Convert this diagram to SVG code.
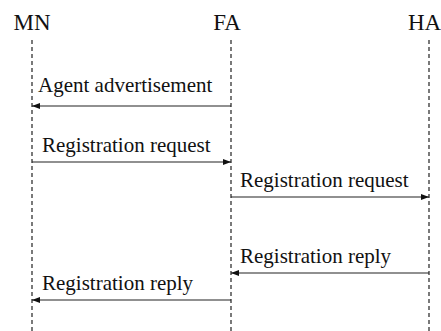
<svg xmlns="http://www.w3.org/2000/svg" width="441" height="331" viewBox="0 0 441 331">
<defs>
<style>
text{font-family:'Liberation Serif','Times New Roman','DejaVu Serif',serif;fill:#111}
.hdr{font-size:23px}
.lbl{font-size:21px}
.life{stroke:#222;stroke-width:1.2;stroke-dasharray:4,3;fill:none}
.msg{stroke:#222;stroke-width:1.2;fill:none;marker-end:url(#ah)}
</style>
<marker id="ah" markerWidth="8" markerHeight="6" refX="8" refY="3" orient="auto" markerUnits="userSpaceOnUse">
<path d="M0,0 L8,3 L0,6 Z" fill="#111"/>
</marker>
</defs>
<rect width="441" height="331" fill="#fff"/>
<g id="MN">
<text class="hdr" x="32" y="30" text-anchor="middle">MN</text>
<line class="life" x1="32" y1="40" x2="32" y2="331"/>
</g>
<g id="FA">
<text class="hdr" x="227" y="30" text-anchor="middle">FA</text>
<line class="life" x1="231" y1="40" x2="231" y2="331"/>
</g>
<g id="HA">
<text class="hdr" x="424.5" y="30" text-anchor="middle">HA</text>
<line class="life" x1="429" y1="40" x2="429" y2="331"/>
</g>
<g id="connectors">
<line class="msg" x1="231" y1="106" x2="32" y2="106"/>
<text class="lbl" x="38" y="92">Agent advertisement</text>
<line class="msg" x1="32" y1="162" x2="231" y2="162"/>
<text class="lbl" x="42" y="152">Registration request</text>
<line class="msg" x1="231" y1="197" x2="429" y2="197"/>
<text class="lbl" x="240" y="187">Registration request</text>
<line class="msg" x1="429" y1="273" x2="231" y2="273"/>
<text class="lbl" x="240" y="263">Registration reply</text>
<line class="msg" x1="231" y1="300" x2="32" y2="300"/>
<text class="lbl" x="42" y="290">Registration reply</text>
</g>
</svg>
